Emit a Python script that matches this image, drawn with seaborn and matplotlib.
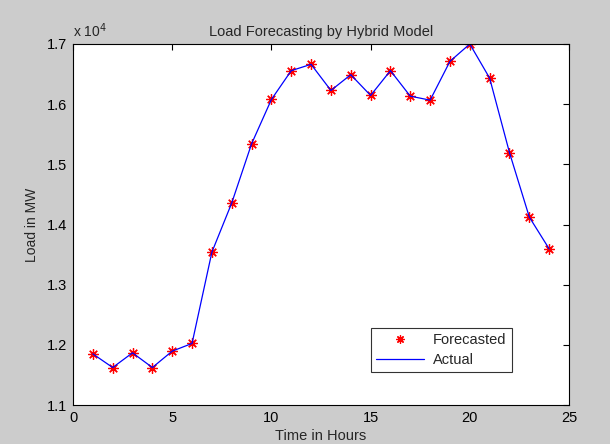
import matplotlib
matplotlib.use("Agg")
import matplotlib.pyplot as plt
import seaborn as sns
import pandas as pd

hours = list(range(1, 25))
forecasted = [11850, 11623, 11867, 11623, 11895, 12023, 13540, 14357, 15340, 16078,
              16557, 16662, 16228, 16490, 16145, 16557, 16133, 16067, 16712, 17000,
              16433, 15195, 14123, 13595]
actual = [11850, 11623, 11867, 11623, 11895, 12023, 13540, 14357, 15340, 16078,
          16557, 16662, 16228, 16490, 16145, 16557, 16133, 16067, 16712, 17000,
          16433, 15195, 14123, 13595]
xticks = [0, 5, 10, 15, 20, 25]
yticks = [11000, 12000, 13000, 14000, 15000, 16000, 17000]

sns.set_style("white")
plt.rcParams['font.family'] = ['Liberation Sans', 'DejaVu Sans']

df = pd.DataFrame({"hour": hours, "forecasted": forecasted, "actual": actual})

fig = plt.figure(figsize=(6.10, 4.44), dpi=100, facecolor="#cccccc")
ax = fig.add_axes([73/610, 1 - 405/444, (569-73)/610, (405-44)/444])
ax.set_facecolor("white")

sns.lineplot(data=df, x="hour", y="forecasted", ax=ax, linestyle="", marker=(8, 2, 0),
             markersize=7.5, color="red", markeredgecolor="red", markeredgewidth=0.9,
             label="Forecasted")
sns.lineplot(data=df, x="hour", y="actual", ax=ax, color="blue", linewidth=0.9,
             label="Actual")

ax.set_xlim(0, 25)
ax.set_ylim(11000, 17000)
ax.set_xticks(xticks)
ax.set_yticks(yticks)
ax.set_xticklabels([str(v) for v in xticks])
ax.set_yticklabels([f"{v/10000:.1f}" for v in yticks])
ax.text(0, 1.01, r"x 10$^4$", transform=ax.transAxes, fontsize=10, va="bottom", ha="left")

ax.tick_params(direction="in", length=4, width=0.8, top=True, right=True,
               labelsize=10.5, colors="black", pad=4)
for s in ax.spines.values():
    s.set_visible(True)
    s.set_color("black")
    s.set_linewidth(0.8)

ax.set_title("Load Forecasting by Hybrid Model", fontsize=10.5, pad=6)
ax.set_xlabel("Time in Hours", fontsize=10.5, labelpad=3)
ax.set_ylabel("Load in MW", fontsize=10, labelpad=6)

leg = ax.legend(loc="lower right", bbox_to_anchor=(0.885, 0.0914), borderaxespad=0,
                frameon=True, fancybox=False, fontsize=10.5, borderpad=0.36,
                handlelength=3.3, labelspacing=0.37, handletextpad=0.6,
                markerscale=0.8)
leg.get_frame().set_edgecolor("black")
leg.get_frame().set_linewidth(0.8)

fig.savefig("out.png", dpi=100, facecolor=fig.get_facecolor())
